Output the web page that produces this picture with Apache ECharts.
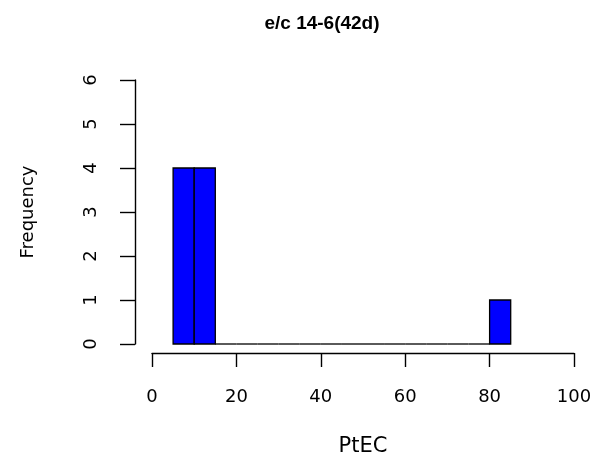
<!DOCTYPE html>
<html>
<head>
<meta charset="utf-8">
<script src="https://cdn.jsdelivr.net/npm/echarts@6/dist/echarts.min.js"></script>
<style>
html,body{margin:0;padding:0;background:#fff;}
#chart{width:594px;height:458px;}
</style>
</head>
<body>
<div id="chart"></div>
<script>
// Histogram data: bins of width 5 from 5 to 85
const binStarts = [5,10,15,20,25,30,35,40,45,50,55,60,65,70,75,80];
const binEnds   = [10,15,20,25,30,35,40,45,50,55,60,65,70,75,80,85];
const counts    = [4,4,0,0,0,0,0,0,0,0,0,0,0,0,0,1];
const xTicks = [0,20,40,60,80,100];
const yTicks = [0,1,2,3,4,5,6];
const titleText = 'e/c 14-6(42d)';
const xName = 'PtEC';
const yName = 'Frequency';

const TFONT = "'Liberation Sans', Arial, sans-serif";
const FONT = "'DejaVu Sans', 'Liberation Sans', sans-serif";
const chart = echarts.init(document.getElementById('chart'), null, {renderer:'canvas'});
const data = binStarts.map((s,i)=>[s, binEnds[i], counts[i]]);

chart.setOption({
  backgroundColor:'#fff',
  animation:false,
  title:{text:titleText,left:317,textAlign:'center',top:9,
    textStyle:{fontFamily:TFONT,fontSize:19,fontWeight:'bold',color:'#000'}},
  grid:{left:152,right:20,top:80,bottom:114,containLabel:false,outerBoundsMode:'none'},
  xAxis:{type:'value',min:xTicks[0],max:xTicks[xTicks.length-1],interval:xTicks[1]-xTicks[0],
    offset:9,
    axisLine:{show:true,onZero:false,lineStyle:{color:'#000',width:1.4}},
    axisTick:{show:true,length:14,lineStyle:{color:'#000',width:1.4}},
    splitLine:{show:false},
    axisLabel:{margin:35,fontFamily:FONT,fontSize:18,color:'#000'},
    name:xName,nameLocation:'middle',nameGap:83,
    nameTextStyle:{fontFamily:FONT,fontSize:21,color:'#000'}},
  yAxis:{type:'value',min:yTicks[0],max:yTicks[yTicks.length-1],interval:yTicks[1]-yTicks[0],
    offset:17,
    axisLine:{show:true,onZero:false,lineStyle:{color:'#000',width:1.4}},
    axisTick:{show:true,length:15,lineStyle:{color:'#000',width:1.4}},
    splitLine:{show:false},
    axisLabel:{rotate:90,margin:35,fontFamily:FONT,fontSize:18,color:'#000'},
    name:yName,nameLocation:'middle',nameGap:98,
    nameTextStyle:{fontFamily:FONT,fontSize:18,color:'#000'}},
  series:[{
    type:'custom',
    data:data,
    encode:{x:[0,1],y:2},
    renderItem:function(params,api){
      const p0 = api.coord([api.value(0), api.value(2)]);
      const p1 = api.coord([api.value(1), 0]);
      const h = p1[1]-p0[1];
      if (h < 0.5) {
        return {type:'line',shape:{x1:p0[0],y1:p1[1],x2:p1[0],y2:p1[1]},
          style:{stroke:'#000',lineWidth:1.3}};
      }
      return {type:'rect',shape:{x:p0[0],y:p0[1],width:p1[0]-p0[0],height:h},
        style:{fill:'#0000ff',stroke:'#000',lineWidth:1.3}};
    }
  }]
});
</script>
</body>
</html>
